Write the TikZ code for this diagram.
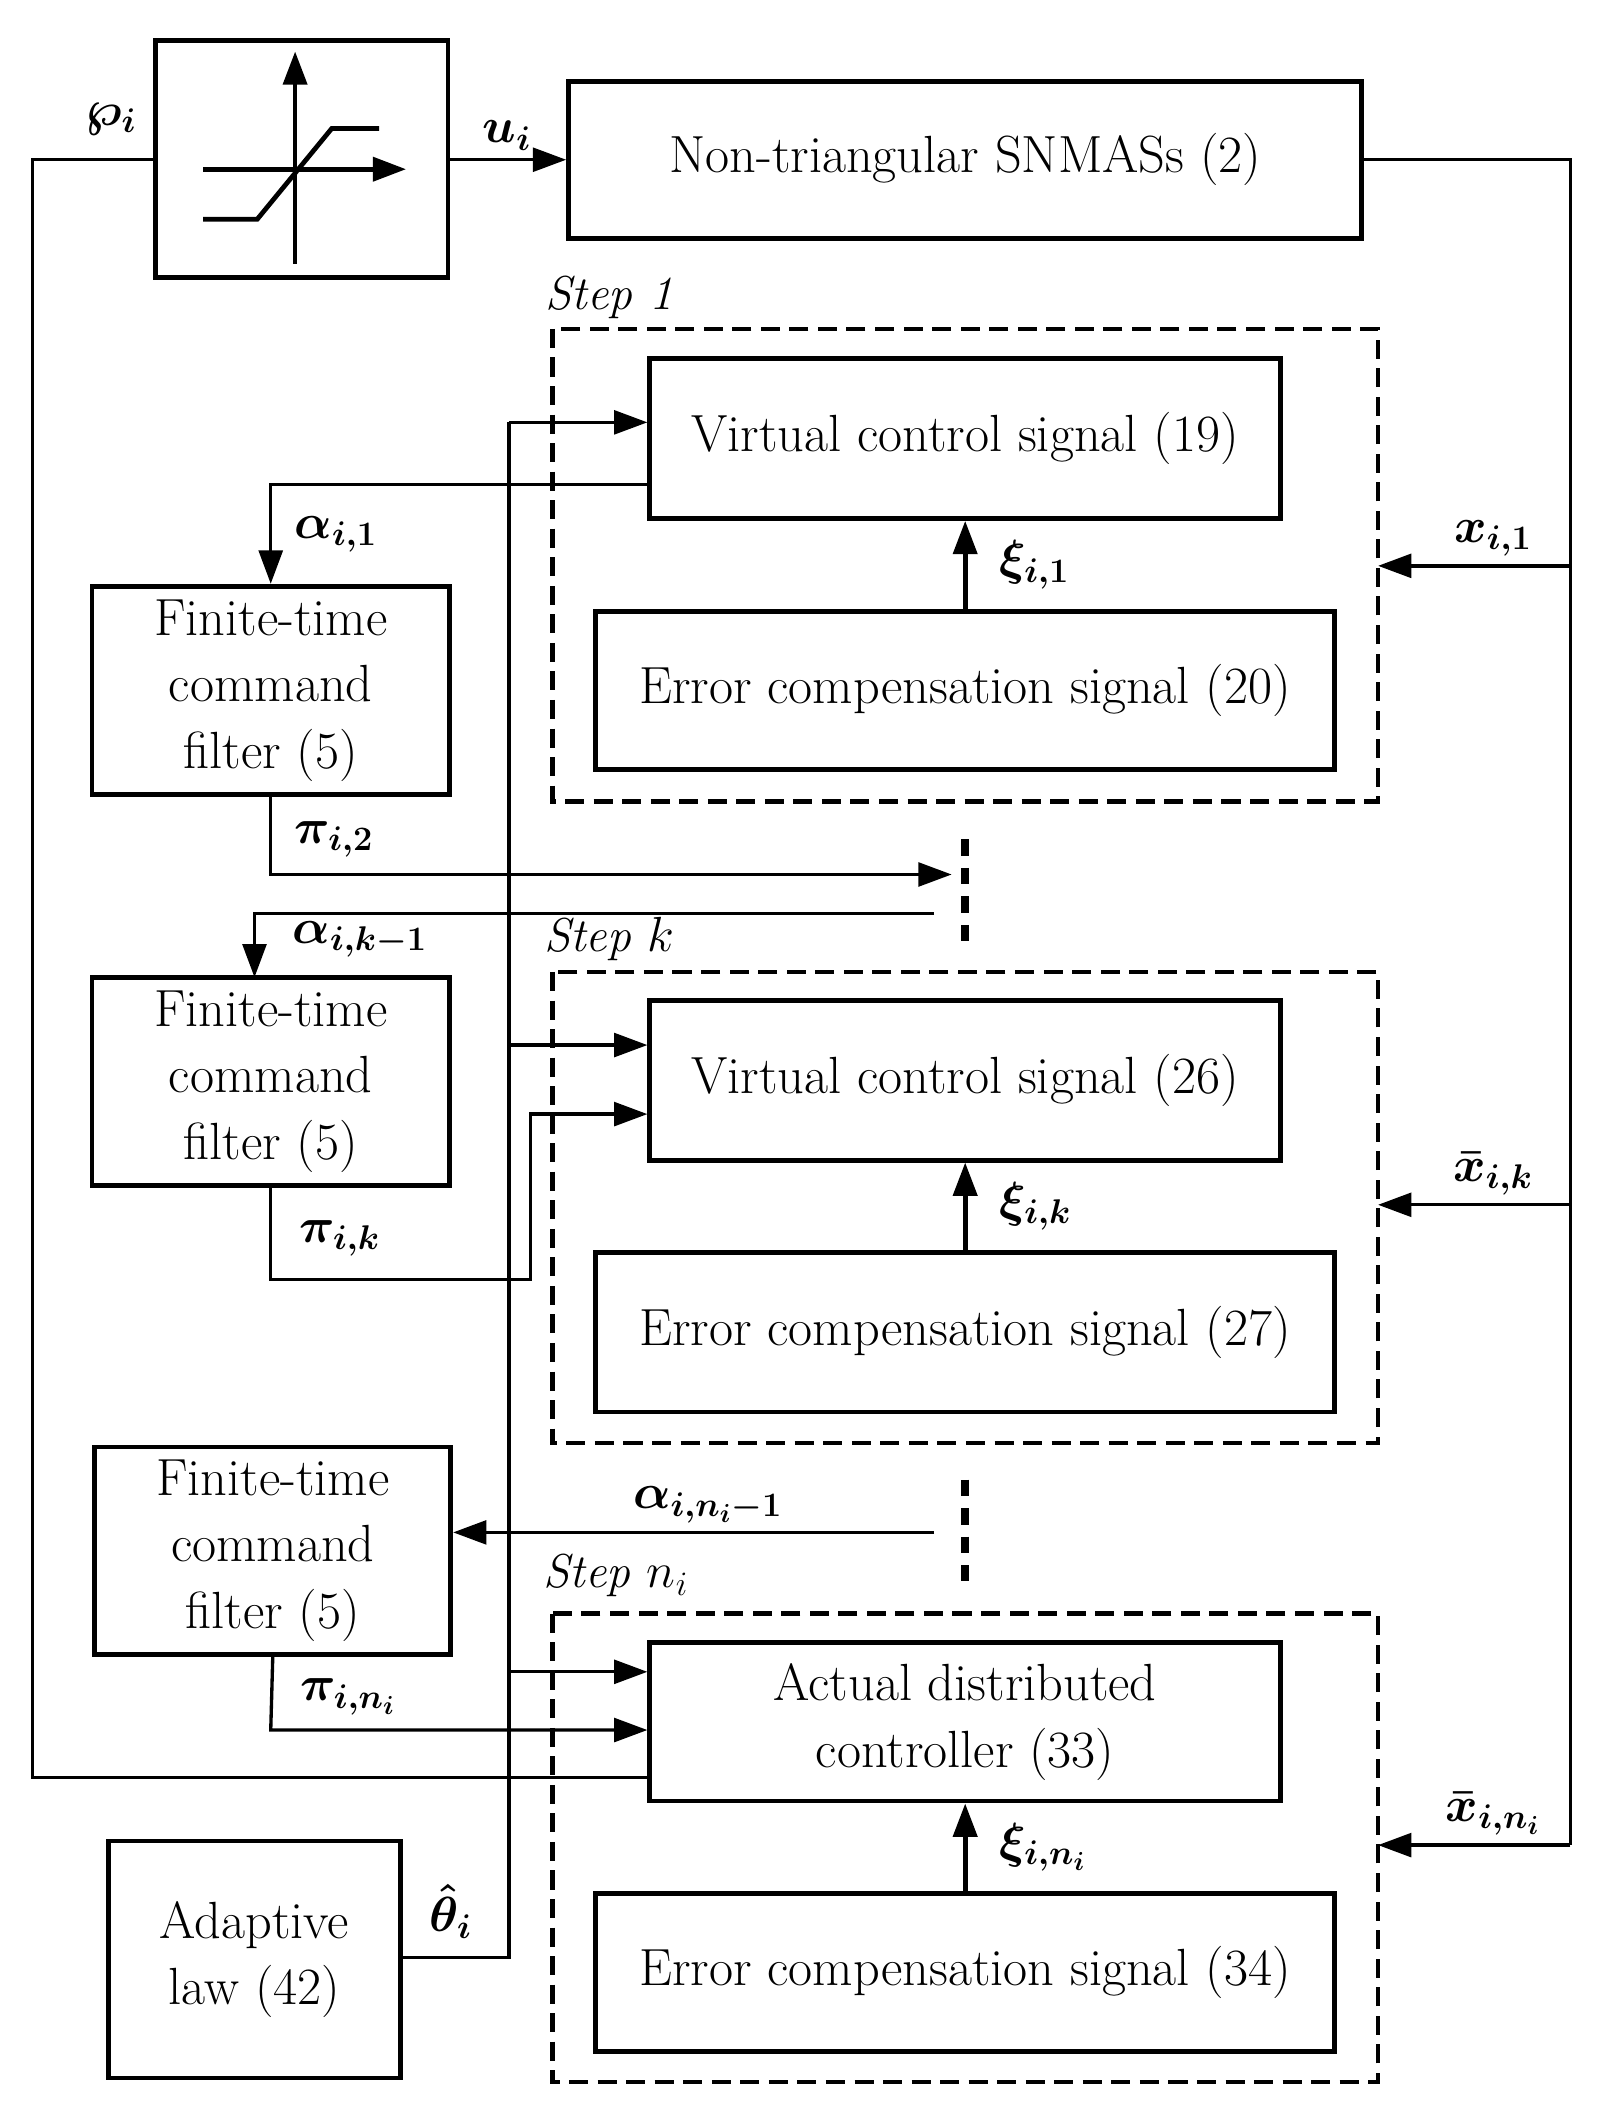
\documentclass[tikz,border=0pt]{standalone}
\usepackage{amsmath,amssymb,bm}
\usetikzlibrary{positioning,arrows.meta}
\begin{document}
\begin{tikzpicture}[x=0.02cm,y=-0.02cm,
    box/.style={draw,line width=2pt,inner sep=0pt},
    stepbox/.style={draw,line width=2pt,dash pattern=on 8pt off 4pt},
    txt/.style={font=\fontsize{22}{28}\selectfont,align=center},
    lab/.style={font=\fontsize{21}{24}\selectfont},
    steplab/.style={font=\fontsize{20}{24}\selectfont\itshape},
    sig/.style={line width=1.4pt},
    arr/.style={sig,-{Triangle[length=14pt,width=10pt]}}]
\useasboundingbox (0,0) rectangle (1183,1572);
% saturation and plant
\node[box,minimum width=216*0.02cm,minimum height=175*0.02cm] (sat) at (223,117.5) {};
\draw[arr,line width=2pt] (218,195)--(218,38);
\draw[arr,line width=2pt] (150,125)--(300,125);
\draw[sig,line width=2pt] (150,162)--(190,162)--(245,95)--(280,95);
\node[box,minimum width=586*0.02cm,minimum height=116*0.02cm,txt] (plant) at (713,118) {Non-triangular SNMASs (2)};
\draw[arr] (331,118) -- node[above,lab]{$\bm{u_i}$} (plant.west|-331,118);
% step boxes
\draw[stepbox] (408,243) rectangle (1018,592);
\draw[stepbox] (408,718) rectangle (1018,1066);
\draw[stepbox] (408,1192) rectangle (1018,1538);
\node[steplab] at (450,220) {Step 1};
\node[steplab] at (450,694) {Step $k$};
\node[steplab] at (455,1164) {Step $n_i$};
% virtual/error boxes
\node[box,minimum width=466*0.02cm,minimum height=118*0.02cm,txt] (v1) at (713,324) {Virtual control signal (19)};
\node[box,minimum width=546*0.02cm,minimum height=117*0.02cm,txt] (e1) at (713,510) {Error compensation signal (20)};
\node[box,minimum width=466*0.02cm,minimum height=118*0.02cm,txt] (v2) at (713,798) {Virtual control signal (26)};
\node[box,minimum width=546*0.02cm,minimum height=118*0.02cm,txt] (e2) at (713,984) {Error compensation signal (27)};
\node[box,minimum width=466*0.02cm,minimum height=117*0.02cm,txt] (v3) at (713,1272) {Actual distributed\\controller (33)};
\node[box,minimum width=546*0.02cm,minimum height=117*0.02cm,txt] (e3) at (713,1457) {Error compensation signal (34)};
\draw[arr,line width=2pt] (e1) -- node[right,lab,xshift=10pt]{$\bm{\xi_{i,1}}$} (v1);
\draw[arr,line width=2pt] (e2) -- node[right,lab,xshift=10pt]{$\bm{\xi_{i,k}}$} (v2);
\draw[arr,line width=2pt] (e3) -- node[right,lab,xshift=10pt]{$\bm{\xi_{i,n_i}}$} (v3);
% filters and adaptive law
\node[box,minimum width=264*0.02cm,minimum height=154*0.02cm,txt] (f1) at (200,510) {Finite-time\\command\\filter (5)};
\node[box,minimum width=264*0.02cm,minimum height=154*0.02cm,txt] (f2) at (200,799) {Finite-time\\command\\filter (5)};
\node[box,minimum width=263*0.02cm,minimum height=153*0.02cm,txt] (f3) at (201.5,1145.5) {Finite-time\\command\\filter (5)};
\node[box,minimum width=216*0.02cm,minimum height=175*0.02cm,txt] (ad) at (188,1447.5) {Adaptive\\law (42)};
% dots
\draw[line width=3.5pt,dash pattern=on 7pt off 5pt] (713,620)--(713,695);
\draw[line width=3.5pt,dash pattern=on 7pt off 5pt] (713,1093)--(713,1168);
% u loop
\coordinate (pL) at (24,118);
\coordinate (pB) at (24,1313);
\draw[sig] (sat.west|-pL) -- (pL) -- (pB) -- (v3.west|-pB);
\node[lab] at (82,88) {$\bm{\wp_i}$};
% state feedback
\coordinate (r0) at (1160,118);
\coordinate (r1) at (1160,418);
\coordinate (r2) at (1160,890);
\coordinate (r3) at (1160,1363);
\draw[sig] (plant.east|-r0) -- (r0) -- (r3);
\draw[arr] (r1) -- node[above,lab,xshift=8pt]{$\bm{x_{i,1}}$} (1018,418);
\draw[arr] (r2) -- node[above,lab,xshift=8pt]{$\bm{\bar{x}_{i,k}}$} (1018,890);
\draw[arr] (r3) -- node[above,lab,xshift=8pt]{$\bm{\bar{x}_{i,n_i}}$} (1018,1363);
% alpha / pi signals
\draw[arr] (v1.west|-480,358) -- (200,358) -- node[right,lab,xshift=6pt]{$\bm{\alpha_{i,1}}$} (f1.north);
\draw[arr] (f1.south) -- node[right,lab,xshift=6pt,pos=0.55]{$\bm{\pi_{i,2}}$} (200,646) -- (703,646);
\draw[arr] (690,675) -- (188,675) -- node[right,lab,xshift=12pt,pos=0.4]{$\bm{\alpha_{i,k-1}}$} (188,722);
\draw[arr] (f2.south) -- node[right,lab,xshift=8pt,pos=0.55]{$\bm{\pi_{i,k}}$} (200,945) -- (392,945) -- (392,823) -- (v2.west|-392,823);
\draw[arr] (690,1132) -- node[above,lab,xshift=6pt]{$\bm{\alpha_{i,n_i-1}}$} (f3.east|-690,1132);
\draw[arr] (f3.south) -- node[right,lab,xshift=8pt,pos=0.55]{$\bm{\pi_{i,n_i}}$} (200,1278) -- (v3.west|-200,1278);
% theta
\coordinate (t0) at (376,1446);
\draw[sig] (ad.east|-t0) -- (t0) -- (376,312);
\node[lab] at (333,1412) {$\bm{\hat{\theta}_i}$};
\draw[arr] (376,312) -- (v1.west|-376,312);
\draw[arr] (376,772) -- (v2.west|-376,772);
\draw[arr] (376,1235) -- (v3.west|-376,1235);
\end{tikzpicture}
\end{document}
